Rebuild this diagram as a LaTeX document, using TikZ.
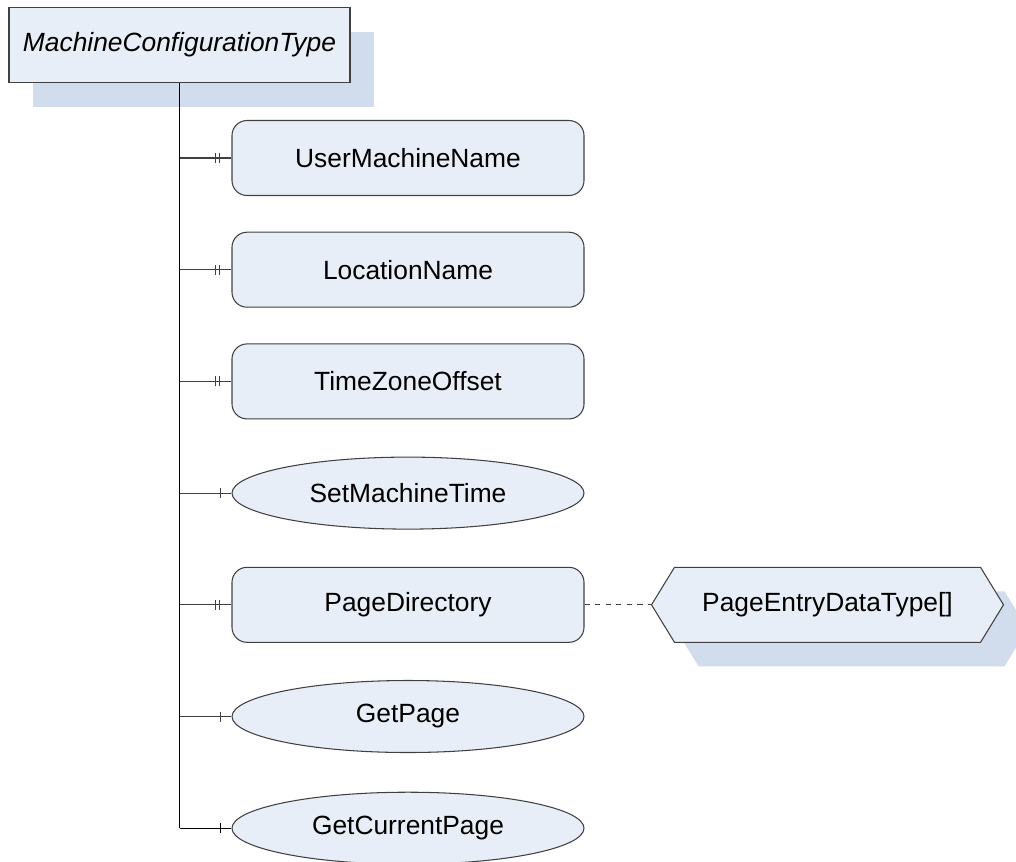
\documentclass[tikz,border=0pt]{standalone}
\usepackage{fontspec}
\setmainfont{Liberation Sans}
\usetikzlibrary{positioning,shapes.geometric,shapes.symbols,shadows,decorations.markings}
\definecolor{boxfill}{RGB}{232,238,247}
\definecolor{boxshade}{RGB}{209,220,236}
\definecolor{boxline}{RGB}{64,64,64}
\tikzset{
  base/.style={draw=boxline,fill=boxfill,line width=0.6pt,
    font=\fontsize{15}{18}\selectfont,inner sep=0pt},
  shade/.style={general shadow={shadow xshift=0.48cm,shadow yshift=-0.48cm,
    fill=boxshade,draw=none}},
  attr/.style={base,rounded corners=0.3cm,minimum width=7.04cm,minimum height=1.5cm},
  meth/.style={base,ellipse,minimum width=7.04cm,minimum height=1.44cm},
  hasone/.style={draw=boxline,line width=0.6pt,postaction={decorate},
    decoration={markings,
      mark=at position -0.33cm with {\draw[line width=0.4pt] (0,-0.1) -- (0,0.1);},
      mark=at position -0.24cm with {\draw[line width=0.4pt] (0,-0.1) -- (0,0.1);}}},
  hasopt/.style={draw=boxline,line width=0.6pt,postaction={decorate},
    decoration={markings,
      mark=at position -0.23cm with {\draw[line width=0.4pt] (0,-0.1) -- (0,0.1);}}}
}
\begin{document}
\begin{tikzpicture}[node distance=2.234cm]
  \useasboundingbox (0,0) rectangle (20.32,-17.22);
  % type and its children
  \node[base,shade,minimum width=6.82cm,minimum height=1.5cm,
    font=\fontsize{15}{18}\selectfont\itshape] (mct) at (3.59,-0.9) {MachineConfigurationType};
  \node[attr] (umn) at (8.16,-3.16) {UserMachineName};
  \node[attr] (loc) [below of=umn] {LocationName};
  \node[attr] (tzo) [below of=loc] {TimeZoneOffset};
  \node[meth] (smt) [below of=tzo] {SetMachineTime};
  \node[attr] (pd)  [below of=smt] {PageDirectory};
  \node[meth] (gp)  [below of=pd]  {GetPage};
  \node[meth] (gcp) [below of=gp]  {GetCurrentPage};
  \node[base,shade,signal,signal to=west and east,signal pointer angle=117,
    minimum width=7.04cm,minimum height=1.5cm] (pe) [right of=pd,node distance=8.39cm] {PageEntryDataType[]};
  % connectors
  \draw[line width=0.8pt] (mct.south) -- (mct.south |- gcp.west);
  \draw[hasone] (mct.south |- umn.west) -- (umn.west);
  \draw[hasone] (mct.south |- loc.west) -- (loc.west);
  \draw[hasone] (mct.south |- tzo.west) -- (tzo.west);
  \draw[hasopt] (mct.south |- smt.west) -- (smt.west);
  \draw[hasone] (mct.south |- pd.west) -- (pd.west);
  \draw[hasopt] (mct.south |- gp.west) -- (gp.west);
  \draw[hasopt,draw=black] (mct.south |- gcp.west) -- (gcp.west);
  \draw[dashed,draw=boxline,line width=0.6pt] (pd.east) -- (pe.west);
\end{tikzpicture}
\end{document}
